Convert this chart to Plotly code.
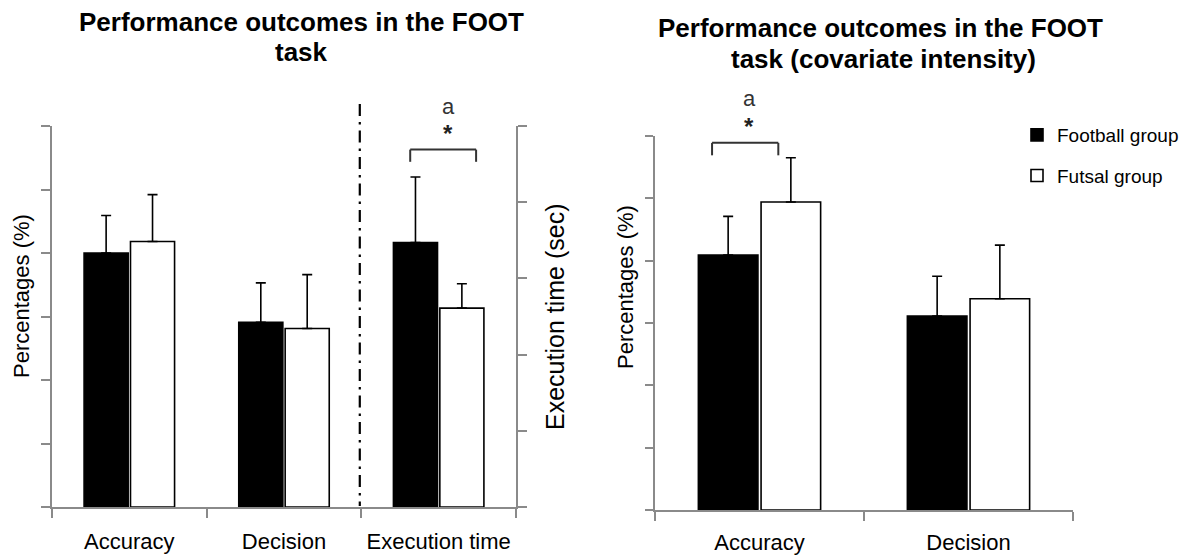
import plotly.graph_objects as go

# ---- data -------------------------------------------------------------
groups = ["Football group", "Futsal group"]

# Panel A: raw outcomes (percent measures + execution time on its own axis)
pct_categories = ["Accuracy", "Decision"]
football_pct = [40.0, 29.1]
football_pct_sd = [5.9, 6.2]
futsal_pct = [41.8, 28.1]
futsal_pct_sd = [7.4, 8.5]

time_categories = ["Execution time"]
football_time = [3.47]
football_time_sd = [0.86]
futsal_time = [2.61]
futsal_time_sd = [0.32]

# Panel B: outcomes adjusted for the intensity covariate
adj_categories = ["Accuracy", "Decision"]
football_adj = [40.9, 31.1]
football_adj_sd = [6.2, 6.4]
futsal_adj = [49.4, 33.9]
futsal_adj_sd = [7.1, 8.6]

left_axis_categories = pct_categories + time_categories

# ---- styling ----------------------------------------------------------
W, H = 1188, 556
FONT = "Liberation Sans Narrow, Arial Narrow, Liberation Sans, Arial, sans-serif"
AXIS_GREY = "#8a8a8a"
FILL = {"Football group": "black", "Futsal group": "white"}


def px_x(p):
    return p / W


def px_y(p):
    return 1 - p / H


def err(vals):
    return dict(type="data", array=vals, arrayminus=[0] * len(vals),
                symmetric=False, color="black", thickness=1.6, width=5)


fig = go.Figure()

series_a = [(football_pct, football_pct_sd), (futsal_pct, futsal_pct_sd)]
series_t = [(football_time, football_time_sd), (futsal_time, futsal_time_sd)]
series_b = [(football_adj, football_adj_sd), (futsal_adj, futsal_adj_sd)]

for g, (v, s) in zip(groups, series_a):
    fig.add_trace(go.Bar(x=pct_categories, y=v, error_y=err(s), name=g,
                         marker=dict(color=FILL[g], line=dict(color="black", width=1.6)),
                         xaxis="x", yaxis="y", showlegend=False))
for g, (v, s) in zip(groups, series_t):
    fig.add_trace(go.Bar(x=time_categories, y=v, error_y=err(s), name=g,
                         marker=dict(color=FILL[g], line=dict(color="black", width=1.6)),
                         xaxis="x", yaxis="y2", showlegend=False))
for g, (v, s) in zip(groups, series_b):
    fig.add_trace(go.Bar(x=adj_categories, y=v, error_y=err(s), name=g,
                         legendgroup=g,
                         marker=dict(color=FILL[g], line=dict(color="black", width=1.6)),
                         xaxis="x2", yaxis="y3", showlegend=True))

axis_common = dict(showline=True, linecolor=AXIS_GREY, linewidth=1.5,
                   ticks="outside", tickcolor=AXIS_GREY, tickwidth=1.5,
                   showgrid=False, zeroline=False, fixedrange=True)

fig.update_layout(
    width=W, height=H,
    margin=dict(l=0, r=0, t=0, b=0),
    paper_bgcolor="white", plot_bgcolor="white",
    font=dict(family=FONT, color="black", size=18),
    barmode="group", bargap=0.4, bargroupgap=0.05,
    xaxis=dict(axis_common, domain=[px_x(52), px_x(516)], anchor="y",
               type="category", categoryorder="array",
               categoryarray=left_axis_categories, range=[-0.5, 2.5],
               tickson="boundaries", ticklen=9, ticklabelstandoff=14,
               tickfont=dict(size=22)),
    yaxis=dict(axis_common, domain=[px_y(507), px_y(126)], anchor="x",
               range=[0, 60], dtick=10, ticklen=9, showticklabels=False),
    yaxis2=dict(axis_common, domain=[px_y(507), px_y(126)], anchor="x",
                overlaying="y", side="right",
                range=[0, 5], dtick=1, ticklen=9, showticklabels=False),
    xaxis2=dict(axis_common, domain=[px_x(655), px_x(1073)], anchor="y3",
                type="category", categoryorder="array",
                categoryarray=adj_categories, range=[-0.5, 1.5],
                tickson="boundaries", ticklen=9, ticklabelstandoff=12,
                tickfont=dict(size=22)),
    yaxis3=dict(axis_common, domain=[px_y(510), px_y(136)], anchor="x2",
                range=[0, 60], dtick=10, ticklen=8, showticklabels=False),
    legend=dict(x=px_x(1017), y=px_y(116), xanchor="left", yanchor="top",
                traceorder="grouped", tracegroupgap=13,
                font=dict(size=19, family=FONT), bgcolor="rgba(0,0,0,0)"),
)

# divider between the percentage measures and execution time
fig.add_shape(type="line", xref="x", yref="paper", x0=1.49, x1=1.49,
              y0=px_y(104), y1=px_y(506),
              line=dict(color="black", width=2.2, dash="12px,6px,2.5px,6px"))


# significance brackets
def bracket(xref, yref, x0, x1, ytop, ybot):
    for (a, b, c, d) in [(x0, ybot, x0, ytop), (x0, ytop, x1, ytop), (x1, ytop, x1, ybot)]:
        fig.add_shape(type="line", xref=xref, yref=yref, x0=a, y0=b, x1=c, y1=d,
                      line=dict(color="#333333", width=2))


bracket("x", "y2", 1.816, 2.242, 4.69, 4.53)
bracket("x2", "y3", -0.227, 0.09, 58.9, 56.9)

MARK_FONT = "Liberation Sans, Arial, sans-serif"
annotations = [
    # significance marks
    dict(xref="paper", yref="paper", x=px_x(448), y=px_y(106), text="a",
         font=dict(size=22, family=MARK_FONT, color="#333")),
    dict(xref="paper", yref="paper", x=px_x(448), y=px_y(133), text="<b>*</b>",
         font=dict(size=24, family=MARK_FONT, color="#222")),
    dict(xref="paper", yref="paper", x=px_x(749), y=px_y(98), text="a",
         font=dict(size=22, family=MARK_FONT, color="#333")),
    dict(xref="paper", yref="paper", x=px_x(749), y=px_y(126), text="<b>*</b>",
         font=dict(size=24, family=MARK_FONT, color="#222")),
    # axis titles
    dict(xref="paper", yref="paper", x=px_x(21), y=px_y(296), text="Percentages (%)",
         textangle=-90, font=dict(size=22)),
    dict(xref="paper", yref="paper", x=px_x(555), y=px_y(317), text="Execution time (sec)",
         textangle=-90, font=dict(size=25)),
    dict(xref="paper", yref="paper", x=px_x(625), y=px_y(287), text="Percentages (%)",
         textangle=-90, font=dict(size=22)),
    # panel titles
    dict(xref="paper", yref="paper", x=px_x(301), y=px_y(22), text="<b>Performance outcomes in the FOOT</b>",
         font=dict(size=26)),
    dict(xref="paper", yref="paper", x=px_x(301), y=px_y(52), text="<b>task</b>",
         font=dict(size=26)),
    dict(xref="paper", yref="paper", x=px_x(880), y=px_y(28), text="<b>Performance outcomes in the FOOT</b>",
         font=dict(size=26)),
    dict(xref="paper", yref="paper", x=px_x(883), y=px_y(59), text="<b>task (covariate intensity)</b>",
         font=dict(size=26)),
]
for a in annotations:
    a.setdefault("showarrow", False)
    a.setdefault("xanchor", "center")
    a.setdefault("yanchor", "middle")
fig.update_layout(annotations=annotations)

fig.write_html("out.html")
